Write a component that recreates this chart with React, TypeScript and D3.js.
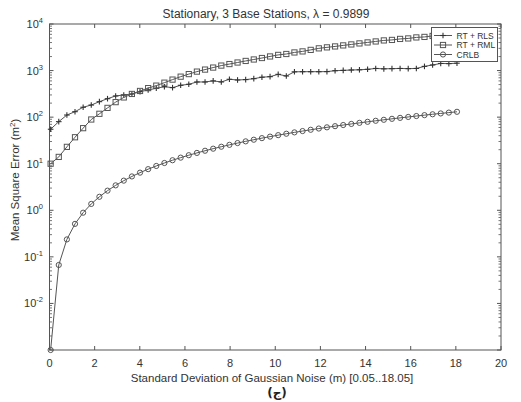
import React from "react";
import * as d3 from "d3";

const sigma = [0.05,0.41,0.77,1.13,1.49,1.85,2.21,2.57,2.93,3.29,3.65,4.01,4.37,4.73,5.09,5.45,5.81,6.17,6.53,6.89,7.25,7.61,7.97,8.33,8.69,9.05,9.41,9.77,10.13,10.49,10.85,11.21,11.57,11.93,12.29,12.65,13.01,13.37,13.73,14.09,14.45,14.81,15.17,15.53,15.89,16.25,16.61,16.97,17.33,17.69,18.05];

const rls = [55,80,111,131,163,182,215,249,285,299,314,352,383,416,451,430,483,508,569,569,600,570,650,628,640,670,720,740,830,765,940,946,946,946,950,994,1010,1028,1040,1064,1110,1090,1100,1110,1100,1110,1230,1320,1420,1410,1440];

const rml = [10,14,23,37,58,89,118,158,210,265,315,365,420,475,550,640,740,840,950,1050,1160,1280,1380,1490,1610,1730,1860,2010,2170,2270,2450,2580,2780,3000,3150,3300,3470,3640,3830,4020,4220,4440,4550,4780,4900,5150,5280,5540,5680,5820,5960];

const crlb = [0.001,0.067,0.237,0.511,0.888,1.37,1.95,2.64,3.43,4.33,5.33,6.43,7.64,8.95,10.36,11.88,13.5,15.23,17.06,18.99,21.03,23.16,25.41,27.76,30.21,32.76,35.42,38.18,41.05,44.02,47.09,50.27,53.55,56.93,60.42,64.01,67.7,71.5,75.41,79.41,83.52,87.73,92.05,96.47,101.0,105.6,110.4,115.2,120.1,125.2,130.3];

const xTicks = [0,2,4,6,8,10,12,14,16,18,20];
const yExps = [-3,-2,-1,0,1,2,3,4];
const yLabelExps = ["-2","-1","0","1","2","3","4"];
const seriesNames = ["RT + RLS", "RT + RML", "CRLB"];

const W = 521, H = 402;
const L = 49.5, R = 501, T = 24, B = 350;
const LC = "#555";
const TC = "#333";
const FONT = "'Liberation Sans', Arial, sans-serif";

function Marker({ kind, x, y }: { kind: number; x: number; y: number }) {
  if (kind === 0) {
    return (
      <g stroke="#333" strokeWidth={1.1}>
        <line x1={x - 2.8} x2={x + 2.8} y1={y} y2={y} />
        <line x1={x} x2={x} y1={y - 2.8} y2={y + 2.8} />
      </g>
    );
  }
  if (kind === 1) {
    return <rect x={x - 2.6} y={y - 2.6} width={5.2} height={5.2} fill="none" stroke={LC} strokeWidth={1} />;
  }
  return <circle cx={x} cy={y} r={2.6} fill="none" stroke={LC} strokeWidth={1} />;
}

export default function App() {
  const x = d3.scaleLinear().domain([0, 20]).range([L, R]);
  const y = d3.scaleLog().domain([1e-3, 1e4]).range([B, T]);
  const line = d3
    .line<[number, number]>()
    .x((d) => x(d[0]))
    .y((d) => y(d[1]));
  const series = [rls, rml, crlb].map((vals) => vals.map((v, i) => [sigma[i], v] as [number, number]));

  const minor: number[] = [];
  for (let e = -3; e < 4; e++) for (let m = 2; m <= 9; m++) minor.push(m * Math.pow(10, e));

  const lgX = 431.5, lgY = 27.5, lgW = 66, lgH = 34;

  return (
    <svg width={W} height={H} style={{ display: "block", position: "absolute", left: 0, top: 0, background: "#fff" }}>
      <rect x={0} y={0} width={W} height={H} fill="#fff" />
      <rect x={L} y={T} width={R - L} height={B - T} fill="#fff" stroke={LC} strokeWidth={1} />
      {xTicks.map((t) => (
        <g key={"xt" + t}>
          <line x1={x(t)} x2={x(t)} y1={B} y2={B - 4} stroke={LC} />
          <line x1={x(t)} x2={x(t)} y1={T} y2={T + 4} stroke={LC} />
          <text x={x(t)} y={367} textAnchor="middle" fontSize={11} fill={TC} fontFamily={FONT}>
            {t}
          </text>
        </g>
      ))}
      {yExps.map((e) => (
        <g key={"yt" + e}>
          <line x1={L} x2={L + 4} y1={y(Math.pow(10, e))} y2={y(Math.pow(10, e))} stroke={LC} />
          <line x1={R} x2={R - 4} y1={y(Math.pow(10, e))} y2={y(Math.pow(10, e))} stroke={LC} />
        </g>
      ))}
      {minor.map((v, i) => (
        <g key={"mn" + i}>
          <line x1={L} x2={L + 2.5} y1={y(v)} y2={y(v)} stroke={LC} strokeWidth={0.8} />
          <line x1={R} x2={R - 2.5} y1={y(v)} y2={y(v)} stroke={LC} strokeWidth={0.8} />
        </g>
      ))}
      {yLabelExps.map((e) => (
        <text key={"yl" + e} x={43} y={y(Math.pow(10, +e)) + 4} textAnchor="end" fontSize={11} fill={TC} fontFamily={FONT}>
          10
          <tspan fontSize={7.5} dy={-5}>
            {e}
          </tspan>
        </text>
      ))}
      {series.map((s, k) => (
        <g key={"s" + k}>
          <path d={line(s) || ""} fill="none" stroke={LC} strokeWidth={1} />
          {s.map((d, i) => (
            <Marker key={i} kind={k} x={x(d[0])} y={y(d[1])} />
          ))}
        </g>
      ))}
      <rect x={lgX} y={lgY} width={lgW} height={lgH} fill="#fff" stroke={LC} strokeWidth={1} />
      {seriesNames.map((n, k) => {
        const ly = 35.5 + k * 9.5;
        return (
          <g key={"lg" + k}>
            <line x1={434} x2={452} y1={ly} y2={ly} stroke={LC} />
            <Marker kind={k} x={443} y={ly} />
            <text x={456.5} y={ly + 3} fontSize={8.5} fill={TC} fontFamily={FONT}>
              {n}
            </text>
          </g>
        );
      })}
      <text x={266} y={18} textAnchor="middle" fontSize={12} fill={TC} fontFamily={FONT}>
        Stationary, 3 Base Stations, λ = 0.9899
      </text>
      <text x={272} y={382} textAnchor="middle" fontSize={11.5} fill={TC} fontFamily={FONT}>
        Standard Deviation of Gaussian Noise (m) [0.05..18.05]
      </text>
      <text transform={`translate(19,180) rotate(-90)`} textAnchor="middle" fontSize={11.5} fill={TC} fontFamily={FONT}>
        Mean Square Error (m
        <tspan fontSize={8} dy={-4}>2</tspan>
        <tspan dy={4}>)</tspan>
      </text>
      <text x={277} y={397} textAnchor="middle" fontSize={12} fontWeight="bold" fill="#222" fontFamily="'DejaVu Sans', sans-serif">
        (ج)
      </text>
    </svg>
  );
}
